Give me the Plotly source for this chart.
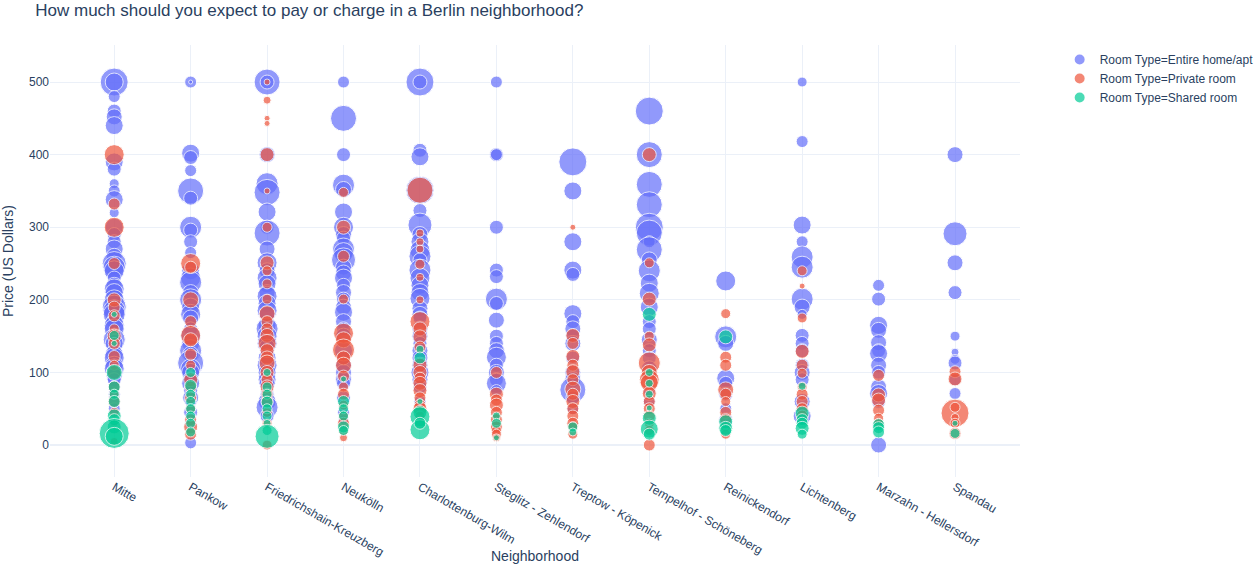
import plotly.graph_objects as go

# Quartiers dans l'ordre de l'axe
neighborhoods = [
    "Mitte", "Pankow", "Friedrichshain-Kreuzberg", "Neukölln", "Charlottenburg-Wilm",
    "Steglitz - Zehlendorf", "Treptow - Köpenick", "Tempelhof - Schöneberg",
    "Reinickendorf", "Lichtenberg", "Marzahn - Hellersdorf", "Spandau",
]

# (prix, nombre d'avis) par quartier et par type de logement
entire_home = {
    "Mitte": [(500, 196), (500, 81), (480, 36), (460, 49), (452, 64), (440, 81), (390, 81), (380, 49),
              (360, 25), (350, 36), (338, 81), (320, 25), (300, 81), (290, 49), (280, 49), (270, 81),
              (260, 64), (250, 144), (245, 121), (240, 100), (230, 49), (220, 64), (215, 100), (210, 81),
              (200, 100), (190, 144), (185, 121), (180, 121), (170, 64), (165, 100), (160, 100), (150, 64),
              (145, 121), (140, 81), (130, 49), (125, 81), (120, 100), (110, 81), (105, 100), (100, 64),
              (95, 64), (90, 49), (80, 36), (70, 36), (60, 25), (50, 36)],
    "Pankow": [(500, 36), (500, 4), (402, 81), (396, 49), (378, 36), (350, 169), (340, 49), (300, 121),
               (296, 49), (280, 49), (265, 36), (240, 81), (230, 100), (224, 121), (210, 64), (200, 121),
               (190, 81), (180, 100), (175, 64), (160, 49), (150, 100), (140, 81), (130, 121), (125, 64),
               (113, 169), (105, 100), (100, 81), (90, 64), (85, 81), (75, 49), (65, 64), (60, 36),
               (45, 49), (30, 36), (3, 36)],
    "Friedrichshain-Kreuzberg": [(500, 169), (500, 49), (400, 64), (360, 121), (348, 169), (321, 81),
                                 (300, 49), (292, 169), (270, 64), (251, 100), (240, 64), (230, 100),
                                 (222, 81), (210, 64), (205, 100), (195, 81), (185, 100), (180, 64),
                                 (165, 81), (160, 121), (150, 100), (140, 100), (135, 64), (120, 81),
                                 (110, 100), (100, 81), (90, 81), (85, 64), (70, 49), (60, 81), (52, 121),
                                 (40, 49)],
    "Neukölln": [(500, 36), (450, 169), (400, 49), (358, 121), (352, 64), (321, 81), (300, 100), (290, 64),
                 (285, 49), (270, 121), (265, 100), (255, 144), (245, 64), (237, 64), (230, 81), (220, 49),
                 (210, 64), (201, 49), (190, 64), (183, 81), (170, 64), (160, 49), (150, 64), (130, 81),
                 (120, 49), (110, 64), (100, 64), (90, 64), (85, 49), (65, 49), (45, 36), (35, 25)],
    "Charlottenburg-Wilm": [(500, 196), (500, 49), (406, 49), (397, 81), (351, 196), (323, 49), (303, 144),
                            (290, 64), (280, 81), (268, 100), (260, 121), (255, 49), (241, 121), (230, 100),
                            (220, 81), (210, 81), (202, 100), (188, 64), (180, 64), (175, 49), (160, 64),
                            (150, 64), (140, 49), (130, 64), (120, 64), (110, 64), (100, 81), (90, 64),
                            (80, 49), (60, 36)],
    "Steglitz - Zehlendorf": [(500, 36), (400, 49), (400, 36), (300, 49), (241, 49), (232, 49), (201, 121),
                              (195, 49), (172, 64), (150, 49), (140, 49), (130, 64), (121, 100), (110, 49),
                              (100, 64), (90, 49), (85, 100), (75, 36)],
    "Treptow - Köpenick": [(390, 196), (350, 81), (280, 81), (241, 81), (235, 49), (181, 81), (170, 49),
                           (160, 64), (150, 49), (140, 64), (120, 49), (100, 64), (90, 64), (76, 169),
                           (65, 49), (50, 36)],
    "Tempelhof - Schöneberg": [(460, 196), (400, 169), (359, 169), (331, 169), (300, 196), (292, 169),
                               (280, 36), (269, 169), (255, 64), (240, 121), (223, 81), (209, 100),
                               (190, 81), (170, 49), (160, 49), (145, 64), (130, 49), (120, 49), (105, 64),
                               (95, 49), (75, 36), (60, 36)],
    "Reinickendorf": [(226, 100), (149, 121), (140, 64), (92, 81), (85, 49), (70, 49), (50, 36), (35, 49)],
    "Lichtenberg": [(500, 25), (418, 36), (303, 81), (280, 36), (259, 121), (245, 121), (201, 121),
                    (190, 64), (180, 25), (151, 49), (140, 49), (130, 49), (110, 49), (100, 64), (90, 49),
                    (60, 64), (40, 81)],
    "Marzahn - Hellersdorf": [(220, 36), (201, 49), (165, 81), (158, 64), (141, 64), (130, 49), (126, 81),
                              (110, 64), (100, 49), (80, 64), (71, 81), (60, 49), (0, 64)],
    "Spandau": [(400, 64), (291, 144), (251, 64), (210, 49), (150, 25), (128, 16), (118, 25), (113, 49),
                (90, 36), (71, 36)],
}

private_room = {
    "Mitte": [(400, 100), (332, 36), (300, 100), (250, 36), (200, 49), (190, 36), (178, 36), (160, 25),
              (150, 49), (140, 36), (122, 36), (110, 25), (100, 49), (80, 36), (70, 25), (60, 36), (45, 25),
              (30, 16), (5, 16)],
    "Pankow": [(250, 100), (245, 36), (200, 64), (170, 36), (151, 100), (145, 49), (125, 36), (110, 25),
               (90, 49), (80, 36), (65, 36), (50, 25), (35, 36), (25, 49), (15, 36)],
    "Friedrichshain-Kreuzberg": [(500, 9), (475, 16), (450, 9), (443, 9), (400, 49), (350, 9), (300, 25),
                                 (251, 49), (240, 25), (222, 25), (201, 25), (181, 64), (170, 36), (160, 36),
                                 (151, 49), (140, 81), (130, 49), (120, 49), (113, 64), (100, 49), (90, 36),
                                 (80, 49), (70, 36), (60, 36), (45, 25), (30, 25), (0, 25)],
    "Neukölln": [(348, 25), (300, 49), (260, 36), (201, 25), (154, 100), (145, 64), (131, 121), (120, 49),
                 (110, 64), (95, 36), (80, 25), (70, 36), (55, 25), (40, 25), (30, 36), (20, 25), (10, 16)],
    "Charlottenburg-Wilm": [(351, 169), (292, 16), (280, 16), (270, 16), (249, 25), (231, 16), (200, 16),
                            (170, 100), (160, 49), (149, 49), (135, 36), (110, 49), (100, 49), (92, 36),
                            (85, 49), (75, 49), (65, 36), (55, 36), (50, 49), (40, 25), (30, 25)],
    "Steglitz - Zehlendorf": [(100, 36), (70, 49), (62, 36), (55, 49), (45, 36), (35, 36), (25, 36),
                              (20, 25), (15, 25), (10, 16)],
    "Treptow - Köpenick": [(300, 9), (151, 49), (140, 36), (122, 49), (110, 36), (101, 49), (90, 36),
                           (77, 64), (70, 36), (60, 49), (50, 36), (40, 36), (30, 36), (25, 25), (15, 25)],
    "Tempelhof - Schöneberg": [(400, 49), (251, 25), (201, 49), (150, 25), (138, 49), (113, 121), (100, 64),
                               (90, 100), (86, 81), (71, 49), (60, 36), (50, 36), (40, 36), (30, 25),
                               (20, 25), (0, 36)],
    "Reinickendorf": [(181, 25), (121, 36), (110, 36), (76, 64), (70, 36), (60, 25), (45, 36), (35, 36),
                      (25, 25), (15, 25)],
    "Lichtenberg": [(240, 25), (219, 9), (175, 25), (129, 49), (110, 36), (99, 25), (80, 25), (70, 36),
                    (60, 36), (50, 36), (40, 36)],
    "Marzahn - Hellersdorf": [(96, 36), (69, 49), (62, 49), (48, 36), (37, 25), (30, 25)],
    "Spandau": [(101, 36), (91, 49), (44, 196), (52, 25), (38, 16), (30, 25), (16, 36)],
}

shared_room = {
    "Mitte": [(180, 9), (151, 25), (140, 9), (100, 64), (80, 36), (70, 25), (60, 36), (40, 49), (35, 36),
              (25, 49), (16, 225), (12, 81)],
    "Pankow": [(100, 25), (82, 36), (70, 25), (60, 25), (50, 25), (40, 25), (30, 25), (18, 25)],
    "Friedrichshain-Kreuzberg": [(100, 16), (80, 25), (70, 25), (59, 36), (50, 25), (40, 25), (30, 16),
                                 (20, 25), (12, 144)],
    "Neukölln": [(91, 9), (60, 36), (50, 25), (40, 25), (25, 36), (20, 25)],
    "Charlottenburg-Wilm": [(132, 16), (120, 36), (60, 9), (45, 49), (39, 100), (21, 100), (30, 36)],
    "Steglitz - Zehlendorf": [(40, 16), (30, 25), (10, 9)],
    "Treptow - Köpenick": [(25, 25), (18, 16)],
    "Tempelhof - Schöneberg": [(180, 49), (100, 16), (85, 16), (70, 16), (51, 9), (37, 49), (22, 81), (15, 36)],
    "Reinickendorf": [(149, 49), (32, 49), (23, 49), (20, 36)],
    "Lichtenberg": [(81, 16), (44, 49), (35, 36), (30, 36), (23, 49), (15, 25)],
    "Marzahn - Hellersdorf": [(28, 36), (24, 36), (18, 36)],
    "Spandau": [(30, 9), (16, 25)],
}

room_types = [
    ("Entire home/apt", entire_home, "#636efa"),
    ("Private room", private_room, "#EF553B"),
    ("Shared room", shared_room, "#00cc96"),
]

# Echelle des bulles comme plotly express (size_max en pixels)
size_max = 30
max_reviews = max(r for _, d, _ in room_types for pts in d.values() for _, r in pts)
sizeref = 2.0 * max_reviews / size_max ** 2

fig = go.Figure()

for name, data, color in room_types:
    x, y, s = [], [], []
    for hood in neighborhoods:
        for price, reviews in data.get(hood, []):
            x.append(hood)
            y.append(price)
            s.append(reviews)
    fig.add_trace(go.Scatter(
        x=x, y=y, mode="markers", name=f"Room Type={name}",
        marker=dict(color=color, size=s, sizemode="area", sizeref=sizeref,
                    opacity=0.7, line=dict(color="white", width=1)),
    ))

fig.update_layout(
    template="plotly_white",
    width=1260, height=581,
    font=dict(family="Arial", size=12, color="#2a3f5f"),
    title=dict(text="How much should you expect to pay or charge in a Berlin neighborhood?",
               x=0.028, xanchor="left", y=0.983, yanchor="middle", yref="container",
               font=dict(size=17)),
    margin=dict(l=50, r=240, t=45, b=104),
    xaxis=dict(categoryorder="array", categoryarray=neighborhoods, range=[-0.84, 11.85],
               tickangle=30, automargin=False),
    yaxis=dict(title=dict(text="Price (US Dollars)", font=dict(size=14)), range=[-44, 551],
               dtick=100, automargin=False),
    legend=dict(xref="container", x=0.841, yref="paper", y=1, xanchor="left", yanchor="top",
                font=dict(size=12), itemsizing="constant"),
    annotations=[dict(text="Neighborhood", xref="paper", yref="paper", x=0.5, y=-0.183,
                      xanchor="center", yanchor="middle", showarrow=False, font=dict(size=14))],
)

# la page sans marge, pour que la figure occupe toute la fenêtre
fig.write_html("out.html", config={"displayModeBar": False},
               post_script="document.body.style.margin = '0';")
